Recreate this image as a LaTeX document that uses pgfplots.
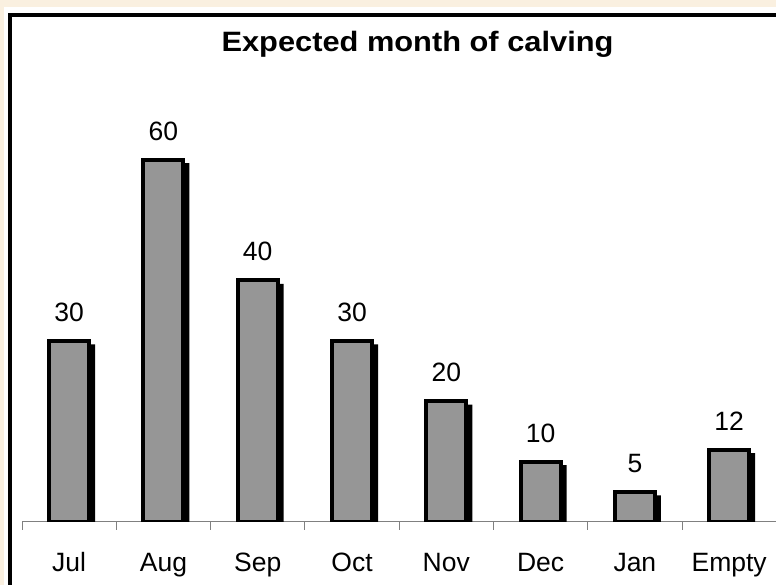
\documentclass[border=0pt]{standalone}
\usepackage{pgfplots}
\pgfplotsset{compat=1.18}
\usepackage{fontspec}
\setmainfont{Liberation Sans}
\definecolor{cream}{RGB}{250,240,224}
\definecolor{bargray}{RGB}{150,150,150}
\definecolor{axgray}{RGB}{128,128,128}
\begin{document}
\begin{tikzpicture}[x=1pt,y=1pt]
\useasboundingbox (0,0) rectangle (776,585);
\clip (0,0) rectangle (776,585);
\fill[cream] (0,0) rectangle (776,585);
\fill[white] (4,-20) rectangle (800,578);
\draw[black, line width=4pt] (10,-20) rectangle (800,569.5);
\node[anchor=base, font=\fontsize{28}{32}\selectfont\bfseries] at (417.5,533) {\scalebox{1.1}[1]{Expected month of calving}};
\begin{axis}[
  at={(22pt,63pt)}, anchor=south west,
  scale only axis, width=754.3pt, height=483.2pt,
  xmin=-0.5, xmax=7.5, ymin=0, ymax=80,
  axis x line*=bottom, axis y line=none,
  x axis line style={axgray, line width=1pt},
  xtick={0,...,7},
  xticklabels={Jul,Aug,Sep,Oct,Nov,Dec,Jan,Empty},
  major tick length=0pt,
  minor xtick={-0.5,0.5,...,7.5},
  minor tick length=8pt,
  tick align=outside,
  minor tick style={axgray, line width=1pt},
  xticklabel style={anchor=base, yshift=-50pt, font=\fontsize{26.5}{30}\selectfont},
  /pgf/number format/assume math mode=true,
  ybar,
]
\addplot[fill=black, draw=none, bar width=44pt, bar shift=4pt, yshift=-3.5pt]
  coordinates {(0,30) (1,60) (2,40) (3,30) (4,20) (5,10) (6,5) (7,12)};
\addplot[fill=bargray, draw=black, line width=4pt, bar width=40pt, bar shift=0pt,
  nodes near coords,
  nodes near coords style={anchor=base, yshift=19.5pt, font=\fontsize{26.5}{30}\selectfont, black}]
  coordinates {(0,30) (1,60) (2,40) (3,30) (4,20) (5,10) (6,5) (7,12)};
\end{axis}
\end{tikzpicture}
\end{document}
